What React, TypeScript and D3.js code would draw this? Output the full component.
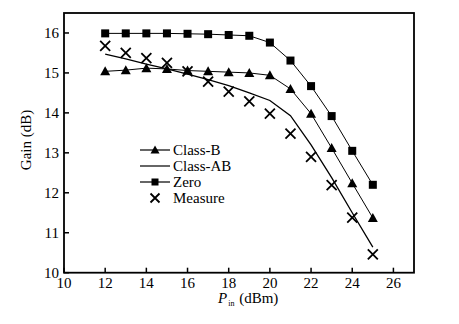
import React from "react";
import * as d3 from "d3";

const pin = [12, 13, 14, 15, 16, 17, 18, 19, 20, 21, 22, 23, 24, 25];
const classB = [15.04, 15.07, 15.12, 15.1, 15.06, 15.04, 15.02, 15.0, 14.94, 14.6, 13.98, 13.12, 12.24, 11.37];
const classAB = [15.47, 15.35, 15.22, 15.1, 14.97, 14.83, 14.68, 14.5, 14.31, 13.93, 13.2, 12.38, 11.5, 10.64];
const zero = [15.99, 15.99, 15.99, 15.99, 15.98, 15.97, 15.95, 15.93, 15.76, 15.31, 14.67, 13.92, 13.05, 12.2];
const measure = [15.68, 15.5, 15.37, 15.25, 15.04, 14.78, 14.53, 14.29, 13.98, 13.48, 12.9, 12.19, 11.38, 10.46];
const xTicks = [10, 12, 14, 16, 18, 20, 22, 24, 26];
const yTicks = [10, 11, 12, 13, 14, 15, 16];
const legendLabels = ["Class-B", "Class-AB", "Zero", "Measure"];

const W = 459, H = 324;
const L = 64, T = 13, R = 414, B = 272.7;
const font = "Liberation Serif, serif";

export default function App() {
  const x = d3.scaleLinear().domain([10, 27]).range([L, R]);
  const y = d3.scaleLinear().domain([10, 16.5]).range([B, T]);
  const line = d3.line<number>().x((_, i) => x(pin[i])).y((v) => y(v));

  const tri = (cx: number, cy: number, k: string | number, s = 5) => (
    <path key={k} d={`M${cx},${cy - s}L${cx + s},${cy + s * 0.8}L${cx - s},${cy + s * 0.8}Z`} fill="#000" />
  );
  const sq = (cx: number, cy: number, k: string | number, s = 4) => (
    <rect key={k} x={cx - s} y={cy - s} width={2 * s} height={2 * s} fill="#000" />
  );
  const cross = (cx: number, cy: number, k: string | number, s = 5) => (
    <path key={k} d={`M${cx - s},${cy - s}L${cx + s},${cy + s}M${cx - s},${cy + s}L${cx + s},${cy - s}`} stroke="#000" strokeWidth={1.8} fill="none" />
  );

  const legX = 140, legY0 = 150, legDy = 16;
  const ts = { fontFamily: font };

  return (
    <svg width={W} height={H} style={{ position: "absolute", left: 0, top: 0, background: "#fff", fontFamily: font }}>
      <path d={line(zero) || ""} fill="none" stroke="#000" strokeWidth={1} />
      <path d={line(classB) || ""} fill="none" stroke="#000" strokeWidth={1} />
      <path d={line(classAB) || ""} fill="none" stroke="#000" strokeWidth={1.3} />
      {zero.map((v, i) => sq(x(pin[i]), y(v), "z" + i))}
      {classB.map((v, i) => tri(x(pin[i]), y(v), "b" + i))}
      {measure.map((v, i) => cross(x(pin[i]), y(v), "m" + i))}

      <rect x={L} y={T} width={R - L} height={B - T} fill="none" stroke="#000" strokeWidth={1.8} />
      {xTicks.map((t) => (
        <g key={"xt" + t}>
          <line x1={x(t)} x2={x(t)} y1={B} y2={B - 5} stroke="#000" strokeWidth={1.5} />
          <text style={ts} x={x(t)} y={B + 15} fontSize={15} textAnchor="middle">{t}</text>
        </g>
      ))}
      {yTicks.map((t) => (
        <g key={"yt" + t}>
          <line x1={L} x2={L + 5} y1={y(t)} y2={y(t)} stroke="#000" strokeWidth={1.5} />
          <text style={ts} x={L - 5} y={y(t) + 5} fontSize={15} textAnchor="end">{t}</text>
        </g>
      ))}
      <text style={ts} transform={`translate(31,140) rotate(-90)`} fontSize={15} textAnchor="middle">Gain (dB)</text>
      <text style={ts} x={218} y={303} fontSize={15}>
        <tspan fontStyle="italic">P</tspan>
        <tspan fontSize={8} dy={3} dx={1}>in</tspan>
        <tspan dy={-3} dx={1}> (dBm)</tspan>
      </text>

      {legendLabels.map((lab, i) => {
        const cy = legY0 + i * legDy;
        const cx = legX + 15;
        return (
          <g key={lab}>
            {i < 3 && <line x1={legX} x2={legX + 30} y1={cy} y2={cy} stroke="#000" strokeWidth={1.2} />}
            {i === 0 && tri(cx, cy, "lb", 4.5)}
            {i === 2 && sq(cx, cy, "lz", 3.5)}
            {i === 3 && cross(cx, cy, "lm", 4.5)}
            <text style={ts} x={legX + 33} y={cy + 5} fontSize={15}>{lab}</text>
          </g>
        );
      })}
    </svg>
  );
}
